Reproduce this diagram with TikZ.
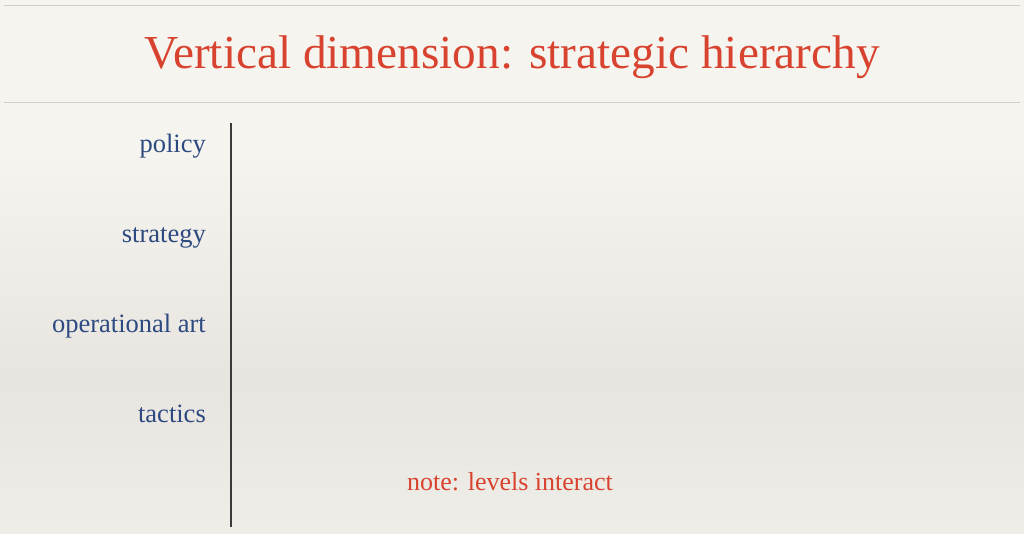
\documentclass[tikz,border=0pt]{standalone}
\usepackage{fontspec}
\setmainfont{Liberation Serif}
\definecolor{titlered}{HTML}{D8432F}
\definecolor{lblblue}{HTML}{2D4A80}
\definecolor{rulegray}{HTML}{D2CFCA}
\definecolor{paperA}{HTML}{F6F4EF}
\definecolor{paperB}{HTML}{E8E5E0}
\definecolor{paperC}{HTML}{EFEDE8}
\definecolor{axisgray}{HTML}{3A3A3A}
\begin{document}
\begin{tikzpicture}[x=1pt,y=-1pt,
  lvl/.style={anchor=base east,text=lblblue,font=\fontsize{26.5}{32}\selectfont,inner sep=0pt},
  hrule/.style={draw=rulegray,line width=1pt}]
\useasboundingbox (0,0) rectangle (1024,533);
\fill[paperA] (0,0) rectangle (1024,150);
\shade[top color=paperA,bottom color=paperB] (0,150) rectangle (1024,380);
\shade[top color=paperB,bottom color=paperC] (0,380) rectangle (1024,533);
\coordinate (r1a) at (4,5); \coordinate (r1b) at (1020,5);
\coordinate (r2a) at (4,102); \coordinate (r2b) at (1020,102);
\draw[hrule] (r1a) -- (r1b);
\draw[hrule] (r2a) -- (r2b);
\node[anchor=base,text=titlered,font=\fontsize{47.3}{56}\selectfont,inner sep=0pt] (title) at (512,68) {Vertical dimension: strategic hierarchy};
\coordinate (axtop) at (231,123); \coordinate (axbot) at (231,527);
\draw[axisgray,line width=1.8pt] (axtop) -- (axbot);
\node[lvl] (policy) at (206,152) {policy};
\node[lvl] (strategy) at (206,242) {strategy};
\node[lvl] (opart) at (206,332) {operational art};
\node[lvl] (tactics) at (206,422) {tactics};
\node[anchor=base,text=titlered,font=\fontsize{26}{31}\selectfont,inner sep=0pt] (note) at (510,490) {note: levels interact};
\end{tikzpicture}
\end{document}
